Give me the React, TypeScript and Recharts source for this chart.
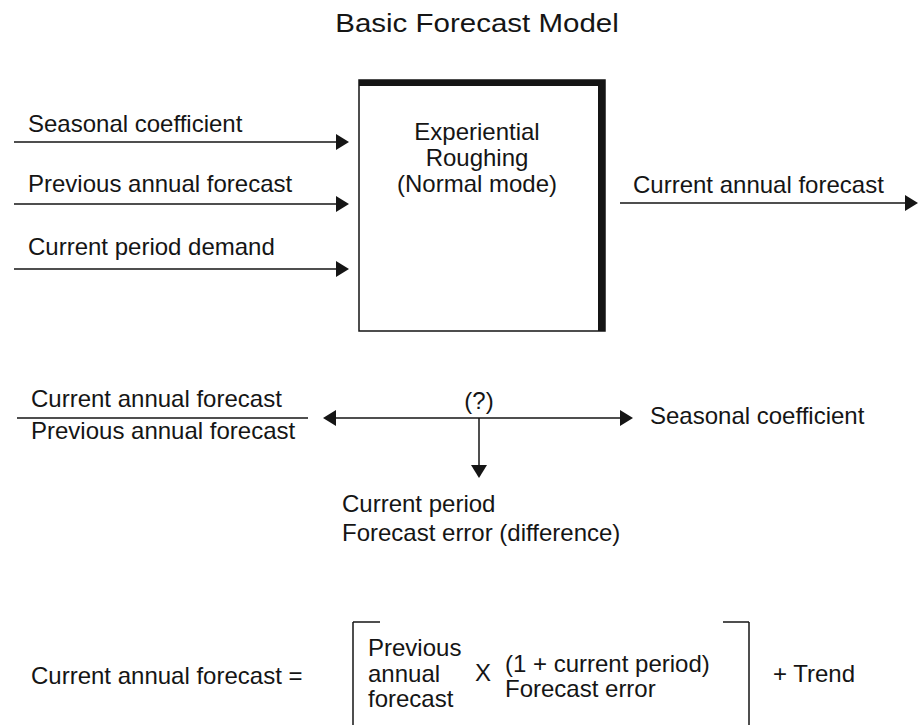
import React from 'react';
import { ScatterChart, Scatter, XAxis, YAxis, ReferenceLine, ReferenceArea } from 'recharts';

const W = 918;
const H = 725;
const INK = '#151515';

// plain line segments [x1, y1, x2, y2] in diagram units
const plainLines: number[][] = [
  [17, 418, 308, 418],
  [353, 622, 353, 725],
  [353, 622, 380, 622],
  [749, 622, 749, 725],
  [723, 622, 749, 622],
];

// arrow shafts [x1, y1, x2, y2]
const arrowShafts: number[][] = [
  [14, 142, 340, 142],
  [14, 204, 340, 204],
  [14, 269, 340, 269],
  [620, 203, 910, 203],
  [330, 418, 626, 418],
  [479, 418, 479, 470],
];

// arrow tips
const arrowTips = [
  { x: 349, y: 142, dir: 'right' },
  { x: 349, y: 204, dir: 'right' },
  { x: 349, y: 269, dir: 'right' },
  { x: 918, y: 203, dir: 'right' },
  { x: 323, y: 418, dir: 'left' },
  { x: 633, y: 418, dir: 'right' },
  { x: 479, y: 478, dir: 'down' },
];

// process box [left, right, top, bottom]
const box = [359, 605, 80, 331];

const labels = [
  { x: 477, y: 32, text: 'Basic Forecast Model', anchor: 'middle', kind: 'title' },
  { x: 28, y: 132, text: 'Seasonal coefficient', anchor: 'start', kind: 'body' },
  { x: 28, y: 192, text: 'Previous annual forecast', anchor: 'start', kind: 'body' },
  { x: 28, y: 255, text: 'Current period demand', anchor: 'start', kind: 'body' },
  { x: 477, y: 140, text: 'Experiential', anchor: 'middle', kind: 'body' },
  { x: 477, y: 166, text: 'Roughing', anchor: 'middle', kind: 'body' },
  { x: 477, y: 192, text: '(Normal mode)', anchor: 'middle', kind: 'body' },
  { x: 633, y: 193, text: 'Current annual forecast', anchor: 'start', kind: 'body' },
  { x: 31, y: 407, text: 'Current annual forecast', anchor: 'start', kind: 'body' },
  { x: 31, y: 439, text: 'Previous annual forecast', anchor: 'start', kind: 'body' },
  { x: 479, y: 409, text: '(?)', anchor: 'middle', kind: 'body' },
  { x: 650, y: 424, text: 'Seasonal coefficient', anchor: 'start', kind: 'body' },
  { x: 342, y: 512, text: 'Current period', anchor: 'start', kind: 'body' },
  { x: 342, y: 541, text: 'Forecast error (difference)', anchor: 'start', kind: 'body' },
  { x: 31, y: 684, text: 'Current annual forecast =', anchor: 'start', kind: 'body' },
  { x: 368, y: 656, text: 'Previous', anchor: 'start', kind: 'body' },
  { x: 368, y: 682, text: 'annual', anchor: 'start', kind: 'body' },
  { x: 368, y: 707, text: 'forecast', anchor: 'start', kind: 'body' },
  { x: 483, y: 681, text: 'X', anchor: 'middle', kind: 'body' },
  { x: 505, y: 672, text: '(1 + current period)', anchor: 'start', kind: 'body' },
  { x: 505, y: 697, text: 'Forecast error', anchor: 'start', kind: 'body' },
  { x: 773, y: 682, text: '+ Trend', anchor: 'start', kind: 'body' },
];

const FONT = '"Liberation Sans", Arial, Helvetica, sans-serif';

const LabelShape = (props: any) => {
  const { cx, cy, payload } = props;
  if (payload.kind === 'title') {
    return (
      <text transform={`translate(${cx},${cy}) scale(1.18,1)`} textAnchor="middle" fontSize={25} fontFamily={FONT} fill={INK}>
        {payload.text}
      </text>
    );
  }
  return (
    <text x={cx} y={cy} textAnchor={payload.anchor} fontSize={24} fontFamily={FONT} fill={INK}>
      {payload.text}
    </text>
  );
};

const ArrowHead = (props: any) => {
  const { cx, cy, payload } = props;
  const len = 13;
  const half = 8;
  let pts = '';
  if (payload.dir === 'right') pts = `${cx},${cy} ${cx - len},${cy - half} ${cx - len},${cy + half}`;
  else if (payload.dir === 'left') pts = `${cx},${cy} ${cx + len},${cy - half} ${cx + len},${cy + half}`;
  else pts = `${cx},${cy} ${cx - half},${cy - len} ${cx + half},${cy - len}`;
  return <polygon points={pts} fill={INK} />;
};

const seg = (s: number[]) => [
  { x: s[0], y: s[1] },
  { x: s[2], y: s[3] },
];

export default function App() {
  const [left, right, top, bottom] = box;
  return (
    <div style={{ position: 'absolute', left: 0, top: 0, width: W, height: H, background: '#fff' }}>
      <ScatterChart width={W} height={H} margin={{ top: 0, right: 0, bottom: 0, left: 0 }}>
        <XAxis type="number" dataKey="x" domain={[0, W]} allowDataOverflow hide />
        <YAxis type="number" dataKey="y" domain={[0, H]} allowDataOverflow reversed hide />
        <ReferenceArea x1={left} x2={right} y1={top} y2={bottom} fill="#fff" fillOpacity={1} stroke={INK} strokeWidth={1.5} />
        <ReferenceLine segment={seg([left, top + 3, right, top + 3])} stroke={INK} strokeWidth={6} />
        <ReferenceLine segment={seg([right - 3.5, top, right - 3.5, bottom])} stroke={INK} strokeWidth={7} />
        {plainLines.map((s, i) => (
          <ReferenceLine key={`p${i}`} segment={seg(s)} stroke={INK} strokeWidth={1.5} />
        ))}
        {arrowShafts.map((s, i) => (
          <ReferenceLine key={`a${i}`} segment={seg(s)} stroke={INK} strokeWidth={1.5} />
        ))}
        <Scatter data={arrowTips} shape={<ArrowHead />} isAnimationActive={false} />
        <Scatter data={labels} shape={<LabelShape />} isAnimationActive={false} />
      </ScatterChart>
    </div>
  );
}
